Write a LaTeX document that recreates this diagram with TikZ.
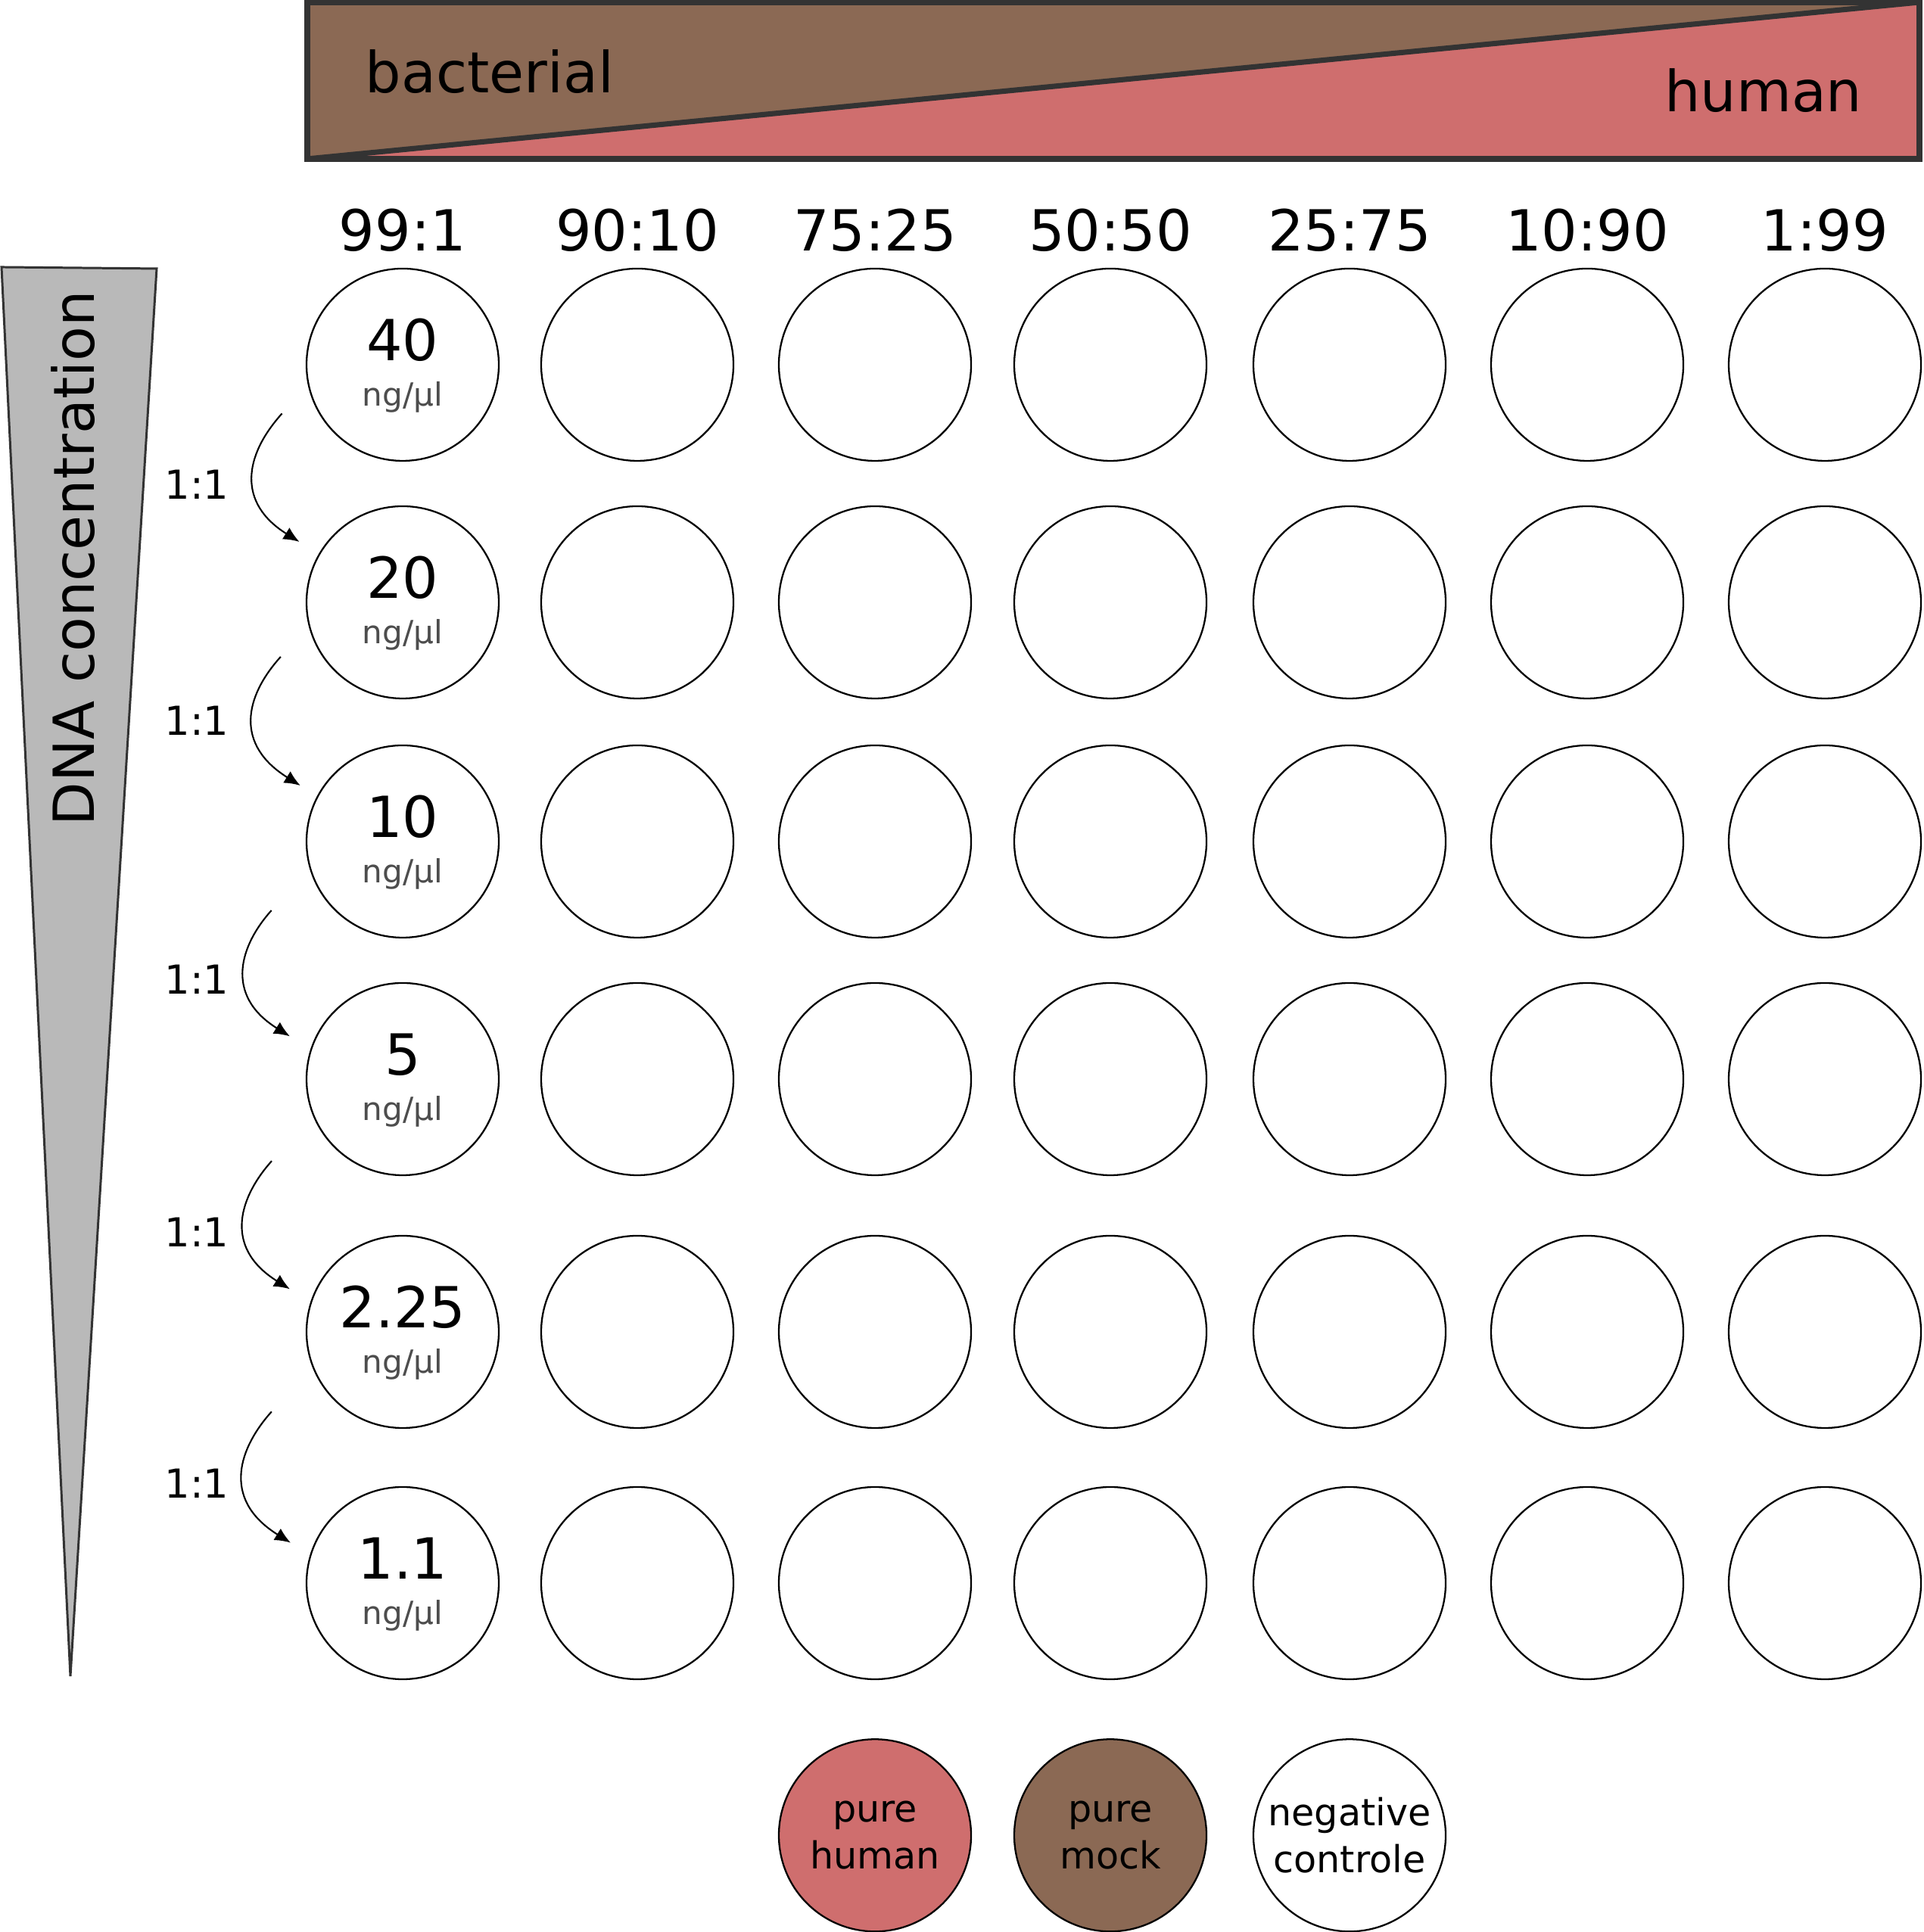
\documentclass[tikz,border=0pt]{standalone}
\usepackage{fontspec}
\setmainfont{DejaVu Sans}
\usepackage{tikz}
\usetikzlibrary{arrows.meta,positioning}
\definecolor{mixbrown}{HTML}{8B6954}
\definecolor{mixpink}{HTML}{CF6E6E}
\definecolor{mixline}{HTML}{333333}
\definecolor{wedgegrey}{HTML}{B9B9B9}
\definecolor{unitgrey}{HTML}{4D4D4D}

\begin{document}
\begin{tikzpicture}
  \tikzstyle{well}=[circle, draw=black, line width=0.65pt, fill=white, minimum size=2.54cm, inner sep=0pt]
  \tikzstyle{big}=[font=\fontsize{21.3}{25}\selectfont, inner sep=0pt]
  \tikzstyle{unitlbl}=[font=\fontsize{12}{14}\selectfont, text=unitgrey, inner sep=0pt]
  \tikzstyle{ratio}=[font=\fontsize{15}{18}\selectfont, inner sep=0pt]
  \tikzstyle{ctrl}=[well, font=\fontsize{14}{17.5}\selectfont, align=center]
  \tikzstyle{dil}=[-{Latex[length=2.1mm,width=1.8mm]}, line width=0.6pt, looseness=1.45]

  \useasboundingbox (0,0) rectangle (25.41,25.53);

  % mixing banner
  \fill[mixbrown] (4.06,23.43) rectangle (25.36,25.50);
  \fill[mixpink] (4.06,23.43) -- (25.36,25.50) -- (25.36,23.43) -- cycle;
  \draw[mixline, line width=2pt] (4.06,23.43) -- (25.36,25.50);
  \draw[mixline, line width=2.2pt] (4.06,23.43) rectangle (25.36,25.50);
  \node[big, anchor=base west] (bact) at (4.82,24.30) {bacterial};
  \node[big, anchor=base east] (hum) at (24.61,24.05) {human};

  % dilution wedge
  \draw[mixline, fill=wedgegrey, line width=0.85pt] (0.02,22.00) -- (2.07,21.98) -- (0.93,3.38) -- cycle;
  \node[big, rotate=90, anchor=base] (dna) at (1.24,18.15) {DNA concentration};

  % plate
  \foreach \x [count=\c] in {5.32,8.42,11.56,14.67,17.83,20.97,24.11}
    \foreach \y [count=\r] in {20.71,17.57,14.41,11.27,7.93,4.61}
      \node[well] (c\r-\c) at (\x,\y) {};

  \foreach \t [count=\c] in {99:1,90:10,75:25,50:50,25:75,10:90,1:99}
    \node[big, anchor=base] (h\c) at ([yshift=0.22cm]c1-\c.north) {\t};

  \foreach \n [count=\r] in {40,20,10,5,2.25,1.1} {
    \node[big, anchor=base] (n\r) at ([yshift=0.05cm]c\r-1.center) {\n};
    \node[unitlbl, anchor=base] (u\r) at ([yshift=-0.55cm]c\r-1.center) {ng/µl};
  }

  % 1:1 dilution steps
  \foreach \a/\b/\sa/\ss/\ea/\es/\ly in {1/2/192/0.51/150/0.30/18.93, 2/3/194/0.55/152/0.26/15.81,
      3/4/196/0.75/162/0.32/12.39, 4/5/202/0.81/162/0.32/9.05, 5/6/201/0.80/163/0.30/5.73} {
    \draw[dil, shorten <=\ss cm, shorten >=\es cm] (c\a-1.\sa) to[out=228,in=148] (c\b-1.\ea);
    \node[ratio, anchor=base] (s\a) at (2.60,\ly) {1:1};
  }

  % controls
  \node[ctrl, fill=mixpink, below=0.77cm of c6-3] (pureh) {pure\\human};
  \node[ctrl, fill=mixbrown, below=0.77cm of c6-4] (purem) {pure\\mock};
  \node[ctrl, below=0.77cm of c6-5] (negc) {negative\\controle};
\end{tikzpicture}
\end{document}
